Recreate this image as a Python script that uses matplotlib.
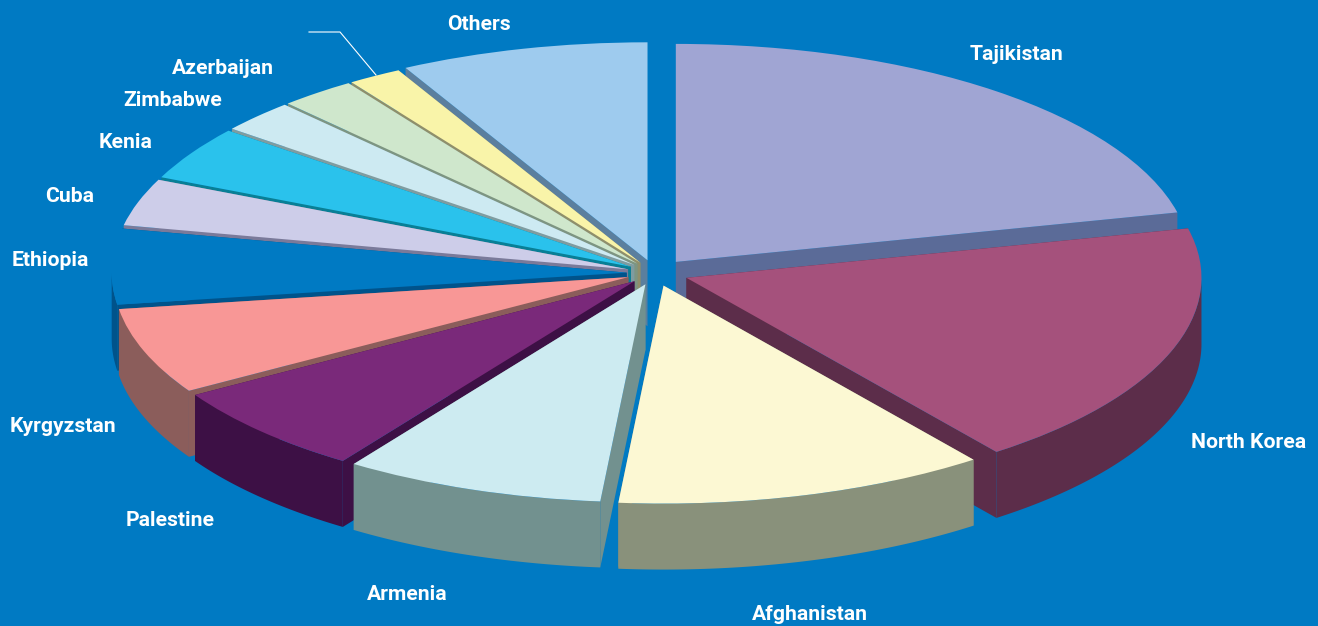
import numpy as np
import matplotlib
matplotlib.use("Agg")
import matplotlib.pyplot as plt
from matplotlib.lines import Line2D

W, H = 1318, 626
BG = "#007ac3"

countries = ["Tajikistan", "North Korea", "Afghanistan", "Armenia", "Palestine", "Kyrgyzstan",
             "Ethiopia", "Cuba", "Kenia", "Zimbabwe", "Azerbaijan", "", "Others"]
shares = [21.4, 18.4, 11.7, 8.2, 6.7, 6.4, 5.6, 3.5, 4.0, 2.4, 2.4, 1.7, 7.8]
explode = [0.065, 0.065, 0.06, 0.055, 0.055, 0.055, 0.055, 0.055, 0.055, 0.055, 0.055, 0.055, 0.06]
top_colors = ["#a0a5d3", "#a5517c", "#fcf8d3", "#cdebf1", "#7a297a", "#f89796", BG,
              "#cdcde9", "#2ac2ec", "#cdeaf2", "#cfe7cc", "#f9f4a9", "#9ecbee"]
side_colors = ["#5b6b98", "#5c2d4a", "#89917b", "#72918f", "#3d1045", "#8b5d5b", "#00538b",
               "#7a7a9a", "#087f96", "#7f9ca0", "#7d9582", "#8f8f6b", "#5b7f9e"]
label_x = [1016, 1249, 810, 407, 170, 63, 50, 70, 126, 173, 223, 0, 479]
label_y = [54, 442, 614, 595, 521, 426, 261, 196, 143, 100, 68, 0, 24]

# pie geometry, in pixels
CX, CY = 655, 273
RX, RY = 515, 218
DEPTH = 66 / RY

fig = plt.figure(figsize=(W / 100, H / 100), dpi=100, facecolor=BG)
ax = fig.add_axes([0, 0, 1, 1])
wedges, _ = ax.pie(shares, explode=explode, colors=top_colors, startangle=90, counterclock=False)
ax.set_aspect("auto")
ax.set_xlim(-CX / RX, (W - CX) / RX)
ax.set_ylim((CY - H) / RY, CY / RY)
ax.axis("off")


def draw_walls(wedge, color, z):
    cx, cy = wedge.center
    t1, t2 = np.radians(wedge.theta1), np.radians(wedge.theta2)
    # the two cut faces
    for t in (t1, t2):
        x = cx + np.cos(t)
        y = cy + np.sin(t)
        ax.fill([cx, x, x, cx], [cy, y, y - DEPTH, cy - DEPTH], color=color, lw=0, zorder=z)
    # the rim, only where it faces the viewer
    t = np.linspace(t1, t2, 200)
    t = t[np.sin(t) < 0]
    if len(t) > 1:
        x = cx + np.cos(t)
        y = cy + np.sin(t)
        ax.fill(np.r_[x, x[::-1]], np.r_[y, y[::-1] - DEPTH], color=color, lw=0, zorder=z)


# paint back to front
mids = [np.radians((w.theta1 + w.theta2) / 2) for w in wedges]
order = np.argsort([-np.sin(m) for m in mids])
for z, i in enumerate(order):
    draw_walls(wedges[i], side_colors[i], 2 * z + 1)
    wedges[i].set_zorder(2 * z + 2)
    wedges[i].set_linewidth(0)

for name, x, y in zip(countries, label_x, label_y):
    if name:
        fig.text(x / W, 1 - y / H, name, color="white", fontsize=15.2, fontweight="bold",
                 family="Roboto", ha="center", va="center")

# leader line of the unnamed slice
fig.add_artist(Line2D(np.array([309, 340, 376]) / W, 1 - np.array([32, 32, 75]) / H,
                      color="white", lw=0.8))

fig.savefig("out.png", dpi=100, facecolor=BG)
